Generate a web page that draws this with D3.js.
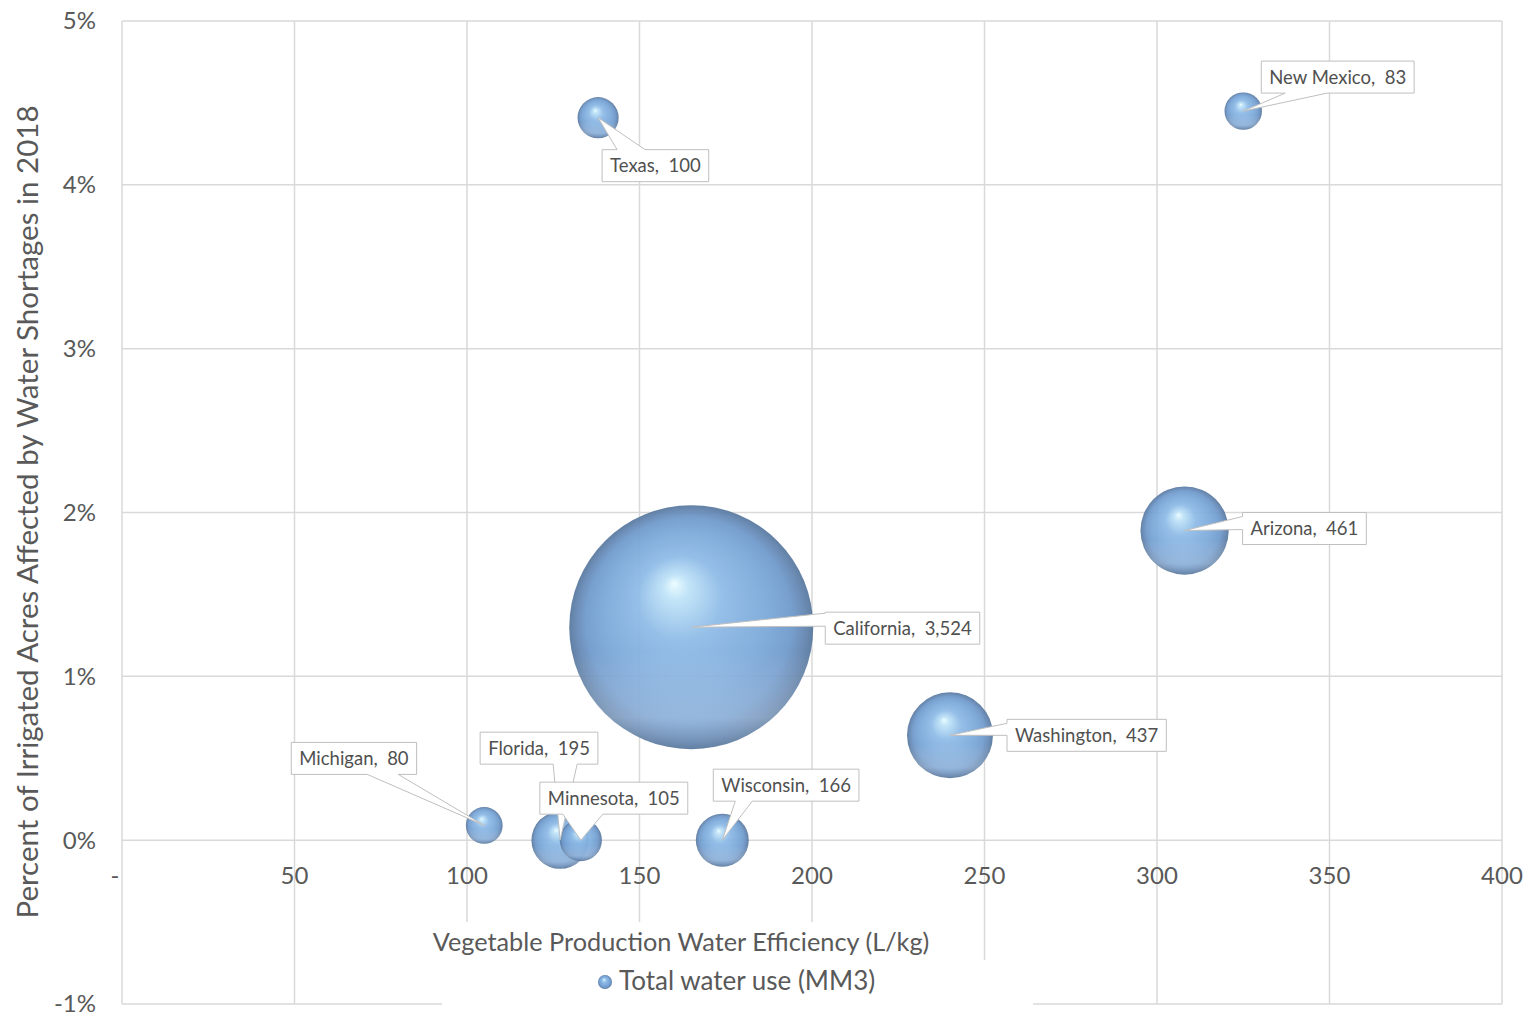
<!DOCTYPE html>
<html lang="en">
<head>
<meta charset="UTF-8">
<title>Water efficiency vs shortages</title>
<script src="https://d3js.org/d3.v7.min.js"></script>
<style>
    body { margin: 0; background: white; }
    svg { display: block; font-family: Lato, "Open Sans", sans-serif; }
    .grid { stroke: #d9d9d9; stroke-width: 1.5px; fill: none; }
    .tick-label { fill: #595959; font-size: 24px; }
    .title { fill: #595959; }
    .callout { fill: white; stroke: #bfbfbf; stroke-width: 1px; }
    .callout-text { fill: #505050; font-size: 18.5px; }
</style>
</head>
<body>
<svg></svg>
<script>
const [width, height] = [1524, 1016]

// data
const states = ['Texas', 'New Mexico', 'Arizona', 'California', 'Washington', 'Michigan', 'Florida', 'Minnesota', 'Wisconsin']
const efficiency = [138, 325, 308, 165, 240, 105, 127, 133, 174]          // L/kg
const shortage = [0.0441, 0.0445, 0.0189, 0.0130, 0.0064, 0.0009, 0.0, 0.0, 0.0]
const waterUse = [100, 83, 461, 3524, 437, 80, 195, 105, 166]             // MM3
const xTicks = [0, 50, 100, 150, 200, 250, 300, 350, 400]
const yTicks = [-0.01, 0, 0.01, 0.02, 0.03, 0.04, 0.05]

// label placement (box offset from bubble centre, wedge side and base along that side)
const callouts = {
    'Texas':      {dx: 4,    dy: 32,  side: 'top',    base: [15, 43]},
    'New Mexico': {dx: 18,   dy: -50, side: 'bottom', base: [24, 66]},
    'Arizona':    {dx: 58,   dy: -18, side: 'left',   base: [4, 17]},
    'California': {dx: 134,  dy: -15, side: 'left',   base: [1, 14]},
    'Washington': {dx: 57,   dy: -16, side: 'left',   base: [4, 16]},
    'Michigan':   {dx: -193, dy: -83, side: 'bottom', base: [76, 107]},
    'Florida':    {dx: -80,  dy: -108, side: 'bottom', base: [73, 97]},
    'Minnesota':  {dx: -41,  dy: -58, side: 'bottom', base: [23, 63]},
    'Wisconsin':  {dx: -9,   dy: -71, side: 'bottom', base: [22, 39]},
}

const rows = states.map((s, i) => ({state: s, x: efficiency[i], y: shortage[i], size: waterUse[i]}))

const plot = {left: 122, right: 1502, top: 21, bottom: 1004}
const x = d3.scaleLinear().domain([0, 400]).range([plot.left, plot.right])
const y = d3.scaleLinear().domain([-0.01, 0.05]).range([plot.bottom, plot.top])
const r = d3.scaleSqrt().domain([0, d3.max(waterUse)]).range([0, 122])

const svg = d3.select('svg').attr('width', width).attr('height', height)

const defs = svg.append('defs')
const grad = defs.append('radialGradient').attr('id', 'ball')
    .attr('cx', '50%').attr('cy', '50%').attr('r', '50%')
    .attr('fx', '43%').attr('fy', '32%')
const stops = [[0, '#eafcff'], [0.1, '#bfe3f8'], [0.35, '#8dbae6'], [0.65, '#7aa8d9'], [0.84, '#6e99cb'], [0.94, '#6184b0'], [1, '#56769c']]
stops.forEach(([o, c]) => grad.append('stop').attr('offset', o).attr('stop-color', c))
const shine = defs.append('linearGradient').attr('id', 'shine')
    .attr('x1', 0).attr('y1', 0).attr('x2', 0).attr('y2', 1)
shine.append('stop').attr('offset', 0.6).attr('stop-color', 'white').attr('stop-opacity', 0)
shine.append('stop').attr('offset', 0.87).attr('stop-color', '#e8f4ff').attr('stop-opacity', 0.25)
shine.append('stop').attr('offset', 1).attr('stop-color', 'white').attr('stop-opacity', 0)

// gridlines
svg.append('g').selectAll('line').data(xTicks).join('line').attr('class', 'grid')
    .attr('x1', d => x(d)).attr('x2', d => x(d)).attr('y1', plot.top).attr('y2', plot.bottom)
svg.append('g').selectAll('line').data(yTicks).join('line').attr('class', 'grid')
    .attr('x1', plot.left).attr('x2', plot.right).attr('y1', d => y(d)).attr('y2', d => y(d))

// tick labels
svg.append('g').selectAll('text').data(xTicks).join('text').attr('class', 'tick-label')
    .attr('x', d => d === 0 ? x(d) - 7 : x(d)).attr('y', y(0) + 44)
    .attr('text-anchor', 'middle')
    .text(d => d === 0 ? '-' : d)
svg.append('g').selectAll('text').data(yTicks).join('text').attr('class', 'tick-label')
    .attr('x', 96).attr('y', d => y(d)).attr('dy', '0.35em')
    .attr('text-anchor', 'end')
    .text(d => d3.format('.0%')(d).replace('−', '-'))

// white boxes behind axis title and legend (they cover gridlines like in Excel)
svg.append('rect').attr('x', 425).attr('y', 922).attr('width', 520).attr('height', 38).attr('fill', 'white')
svg.append('rect').attr('x', 442).attr('y', 960).attr('width', 591).attr('height', 50).attr('fill', 'white')

svg.append('text').attr('class', 'title').attr('font-size', 25.3)
    .attr('x', 681).attr('y', 951).attr('text-anchor', 'middle')
    .text('Vegetable Production Water Efficiency (L/kg)')
svg.append('text').attr('class', 'title').attr('font-size', 29.5)
    .attr('transform', `translate(38, 512) rotate(-90)`).attr('text-anchor', 'middle')
    .text('Percent of Irrigated Acres Affected by Water Shortages in 2018')

// legend
svg.append('circle').attr('cx', 605).attr('cy', 982).attr('r', 7).attr('fill', 'url(#ball)')
svg.append('text').attr('class', 'title').attr('font-size', 26)
    .attr('x', 619).attr('y', 990).text('Total water use (MM3)')

// bubbles
const bubbles = svg.append('g').selectAll('g').data(rows).join('g')
    .attr('transform', d => `translate(${x(d.x)}, ${y(d.y)})`)
bubbles.append('circle').attr('r', d => r(d.size)).attr('fill', 'url(#ball)').attr('fill-opacity', 0.93)
bubbles.append('circle').attr('r', d => r(d.size)).attr('fill', 'url(#shine)')

// callout labels
const calloutPath = (bx, by, w, h, side, base, px, py) => {
    const [b0, b1] = base
    const pts = [[bx, by]]
    if (side === 'top') pts.push([bx + b0, by], [px, py], [bx + b1, by])
    pts.push([bx + w, by])
    if (side === 'right') pts.push([bx + w, by + b0], [px, py], [bx + w, by + b1])
    pts.push([bx + w, by + h])
    if (side === 'bottom') pts.push([bx + b1, by + h], [px, py], [bx + b0, by + h])
    pts.push([bx, by + h])
    if (side === 'left') pts.push([bx, by + b1], [px, py], [bx, by + b0])
    return 'M' + pts.map(p => p.join(',')).join('L') + 'Z'
}

const labels = svg.append('g')
rows.forEach(d => {
    const c = callouts[d.state]
    const cx = x(d.x), cy = y(d.y)
    const g = labels.append('g')
    const path = g.append('path').attr('class', 'callout')
    const t = g.append('text').attr('class', 'callout-text')
        .attr('x', cx + c.dx + 8).attr('y', cy + c.dy + 16).attr('dy', '0.35em')
        .attr('xml:space', 'preserve')
        .text(`${d.state},  ${d3.format(',')(d.size)}`)
    const w = t.node().getComputedTextLength() + 16
    path.attr('d', calloutPath(cx + c.dx, cy + c.dy, w, 32, c.side, c.base, cx, cy))
})
</script>
</body>
</html>
